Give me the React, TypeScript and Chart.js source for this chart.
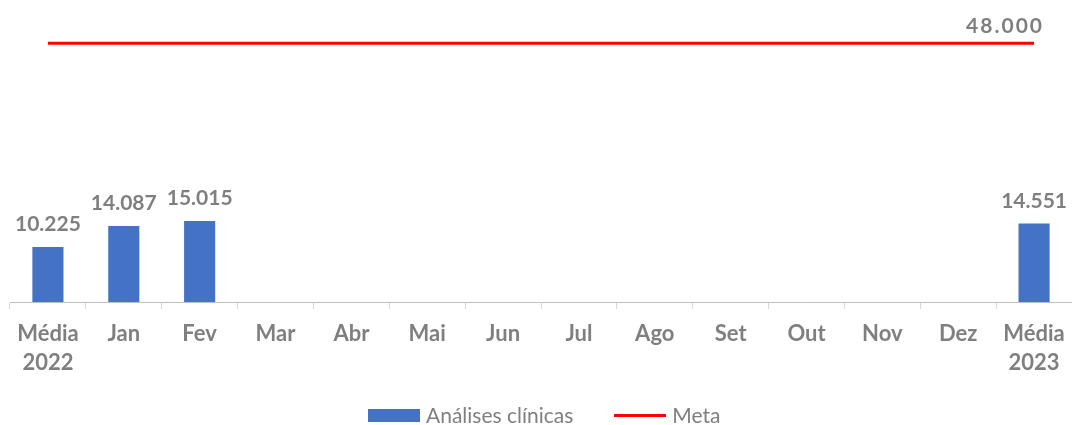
import React, { useEffect, useRef } from "react";
import { Chart, registerables } from "chart.js";

Chart.register(...registerables);

const categories: (string | string[])[] = [
  ["Média", "2022"], "Jan", "Fev", "Mar", "Abr", "Mai", "Jun", "Jul", "Ago", "Set", "Out", "Nov", "Dez", ["Média", "2023"],
];
const analisesClinicas: (number | null)[] = [10225, 14087, 15015, null, null, null, null, null, null, null, null, null, null, 14551];
const meta: number[] = [48000, 48000, 48000, 48000, 48000, 48000, 48000, 48000, 48000, 48000, 48000, 48000, 48000, 48000];
const seriesNames = ["Análises clínicas", "Meta"];

const FONT = "Lato, 'Open Sans', sans-serif";
const GRAY = "#7f7f7f";
const BLUE = "#4472C4";
const RED = "#FF0000";

const fmt = (v: number) => {
  const s = Math.round(v).toString();
  return s.replace(/\B(?=(\d{3})+(?!\d))/g, ".");
};

const labelPlugin = {
  id: "valueLabels",
  afterDatasetsDraw(chart: any) {
    const ctx = chart.ctx;
    ctx.save();
    ctx.font = `bold 21px ${FONT}`;
    ctx.fillStyle = GRAY;
    ctx.textBaseline = "alphabetic";
    ctx.textAlign = "center";
    const m0 = chart.getDatasetMeta(0);
    m0.data.forEach((el: any, i: number) => {
      const v = analisesClinicas[i];
      if (v == null) return;
      ctx.fillText(fmt(v), el.x, el.y - 16);
    });
    const m1 = chart.getDatasetMeta(1);
    const last = m1.data.length - 1;
    const el = m1.data[last];
    const txt = fmt(meta[last]);
    (ctx as any).letterSpacing = "2px";
    ctx.textAlign = "right";
    const w = ctx.measureText(txt).width;
    let right = el.x + w / 2;
    if (right > 1044) right = 1044;
    ctx.fillText(txt, right, el.y - 10);
    ctx.restore();
  },
};

export default function App() {
  const ref = useRef<HTMLCanvasElement>(null);
  useEffect(() => {
    if (!ref.current) return;
    const chart = new Chart(ref.current, {
      type: "bar",
      data: {
        labels: categories,
        datasets: [
          {
            type: "bar",
            label: seriesNames[0],
            data: analisesClinicas,
            backgroundColor: BLUE,
            borderWidth: 0,
            categoryPercentage: 1,
            barPercentage: 0.41,
            order: 2,
          } as any,
          {
            type: "line",
            label: seriesNames[1],
            data: meta,
            borderColor: RED,
            backgroundColor: RED,
            borderWidth: 3,
            pointRadius: 0,
            order: 1,
          } as any,
        ],
      },
      options: {
        animation: false,
        responsive: false,
        maintainAspectRatio: false,
        layout: { padding: { left: 10, right: 0, top: 11, bottom: 0 } },
        scales: {
          x: {
            offset: true,
            grid: { display: true, drawOnChartArea: false, offset: true, tickLength: 7, color: "#d9d9d9" },
            border: { display: true, color: "#bfbfbf", width: 1 },
            ticks: {
              color: GRAY,
              font: { family: FONT, size: 22, weight: "bold", lineHeight: 1.3 },
              padding: 11,
              maxRotation: 0,
              autoSkip: false,
            },
            afterFit: (scale: any) => {
              scale.height = 123;
              scale.paddingRight = 0;
              scale.paddingLeft = 0;
            },
          },
          y: {
            display: false,
            min: 0,
            max: 54000,
          },
        },
        plugins: {
          legend: { display: false },
          tooltip: { enabled: false },
        },
      },
      plugins: [labelPlugin],
    });
    return () => chart.destroy();
  }, []);
  const legendText: React.CSSProperties = {
    fontFamily: FONT,
    fontSize: 21,
    color: GRAY,
    marginLeft: 6,
    lineHeight: "24px",
  };
  return (
    <div style={{ position: "absolute", left: 0, top: 0, width: 1072, height: 425, background: "#fff" }}>
      <canvas ref={ref} width={1072} height={425} style={{ display: "block" }} />
      <div
        style={{
          position: "absolute",
          left: 368,
          top: 403,
          height: 24,
          display: "flex",
          alignItems: "center",
          whiteSpace: "nowrap",
        }}
      >
        <span style={{ display: "inline-block", width: 52, height: 13, background: BLUE }} />
        <span style={legendText}>{seriesNames[0]}</span>
        <span style={{ display: "inline-block", width: 52, height: 3, background: RED, marginLeft: 41 }} />
        <span style={legendText}>{seriesNames[1]}</span>
      </div>
    </div>
  );
}
